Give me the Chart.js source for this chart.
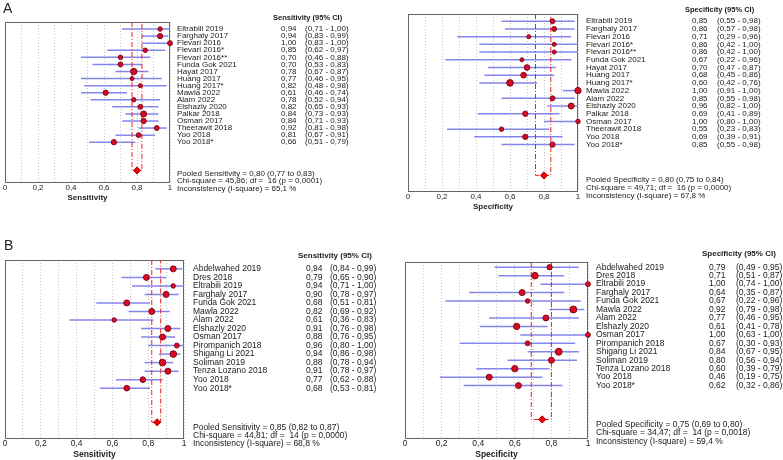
<!DOCTYPE html>
<html>
<head>
<meta charset="utf-8">
<script src="https://cdn.jsdelivr.net/npm/chart.js@4.4.1/dist/chart.umd.min.js"></script>
<style>
  html, body { margin: 0; padding: 0; background: #fff; }
  #wrap { position: relative; width: 783px; height: 460px; overflow: hidden; font-family: "Liberation Sans", Arial, sans-serif; }
  #wrap canvas { position: absolute; }
  .tag { position: absolute; font-size: 14px; line-height: 14px; color: #222; }
</style>
</head>
<body>
<div id="wrap">
  <canvas id="aSens" width="392" height="226" style="left:0;top:0"></canvas>
  <canvas id="aSpec" width="391" height="226" style="left:392px;top:0"></canvas>
  <canvas id="bSens" width="392" height="234" style="left:0;top:226px"></canvas>
  <canvas id="bSpec" width="391" height="234" style="left:392px;top:226px"></canvas>
  <div class="tag" style="left:3px;top:1px">A</div>
  <div class="tag" style="left:4px;top:238px">B</div>
</div>
<script>
// ---- panel A data ----
const studiesA = ['Eltrabili 2019', 'Farghaly 2017', 'Flevari 2016', 'Flevari 2016*', 'Flevari 2016**',
  'Funda Gok 2021', 'Hayat 2017', 'Huang 2017', 'Huang 2017*', 'Mawla 2022', 'Alam 2022',
  'Elshazly 2020', 'Palkar 2018', 'Osman 2017', 'Theerawit 2018', 'Yoo 2018', 'Yoo 2018*'];
const sensA   = [0.94, 0.94, 1.00, 0.85, 0.70, 0.70, 0.78, 0.77, 0.82, 0.61, 0.78, 0.82, 0.84, 0.84, 0.92, 0.81, 0.66];
const sensLoA = [0.71, 0.83, 0.83, 0.62, 0.46, 0.53, 0.67, 0.46, 0.48, 0.46, 0.52, 0.65, 0.73, 0.71, 0.81, 0.67, 0.51];
const sensHiA = [1.00, 0.99, 1.00, 0.97, 0.88, 0.83, 0.87, 0.95, 0.98, 0.74, 0.94, 0.93, 0.93, 0.93, 0.98, 0.91, 0.79];
const sensWtA = [5, 7, 6, 5, 5, 6, 10, 4, 4, 7, 5, 6, 9, 7, 6, 6, 7];
const specA   = [0.85, 0.86, 0.71, 0.86, 0.86, 0.67, 0.70, 0.68, 0.60, 1.00, 0.85, 0.96, 0.69, 1.00, 0.55, 0.69, 0.85];
const specLoA = [0.55, 0.57, 0.29, 0.42, 0.42, 0.22, 0.47, 0.45, 0.42, 0.91, 0.55, 0.82, 0.41, 0.80, 0.23, 0.39, 0.55];
const specHiA = [0.98, 0.98, 0.96, 1.00, 1.00, 0.96, 0.87, 0.86, 0.76, 1.00, 0.98, 1.00, 0.89, 1.00, 0.83, 0.91, 0.98];
const specWtA = [6, 6, 4, 4, 4, 4, 8, 8, 11, 10, 6, 9, 7, 5, 5, 7, 7];
const pooledSensA = [0.80, 0.77, 0.83];
const pooledSpecA = [0.80, 0.75, 0.84];
const hetSensA = [45.86, 16, 0.0001, 65.1];   // chi-square, df, p, I-square
const hetSpecA = [49.71, 16, 0.0000, 67.8];

// ---- panel B data ----
const studiesB = ['Abdelwahed 2019', 'Dres 2018', 'Eltrabili 2019', 'Farghaly 2017', 'Funda Gok 2021',
  'Mawla 2022', 'Alam 2022', 'Elshazly 2020', 'Osman 2017', 'Pirompanich 2018', 'Shigang Li 2021',
  'Soliman 2019', 'Tenza Lozano 2018', 'Yoo 2018', 'Yoo 2018*'];
const sensB   = [0.94, 0.79, 0.94, 0.90, 0.68, 0.82, 0.61, 0.91, 0.88, 0.96, 0.94, 0.88, 0.91, 0.77, 0.68];
const sensLoB = [0.84, 0.65, 0.71, 0.78, 0.51, 0.69, 0.36, 0.76, 0.76, 0.80, 0.86, 0.78, 0.78, 0.62, 0.53];
const sensHiB = [0.99, 0.90, 1.00, 0.97, 0.81, 0.92, 0.83, 0.98, 0.95, 1.00, 0.98, 0.94, 0.97, 0.88, 0.81];
const sensWtB = [9, 9, 5, 9, 9, 9, 5, 9, 9, 6, 11, 11, 9, 8, 8];
const specB   = [0.79, 0.71, 1.00, 0.64, 0.67, 0.92, 0.77, 0.61, 1.00, 0.67, 0.84, 0.80, 0.60, 0.46, 0.62];
const specLoB = [0.49, 0.51, 0.74, 0.35, 0.22, 0.79, 0.46, 0.41, 0.63, 0.30, 0.67, 0.56, 0.39, 0.19, 0.32];
const specHiB = [0.95, 0.87, 1.00, 0.87, 0.96, 0.98, 0.95, 0.78, 1.00, 0.93, 0.95, 0.94, 0.79, 0.75, 0.86];
const specWtB = [7, 11, 6, 9, 5, 12, 9, 10, 6, 6, 12, 9, 10, 9, 9];
const pooledSensB = [0.85, 0.82, 0.87];
const pooledSpecB = [0.75, 0.69, 0.80];
const hetSensB = [44.81, 14, 0.0000, 68.8];
const hetSpecB = [34.47, 14, 0.0018, 59.4];

const FONT = '"Liberation Sans", Arial, sans-serif';
const comma = (v, d) => v.toFixed(d).replace('.', ',');
const tickLabel = v => String(Math.round(v * 10) / 10).replace('.', ',');

const panels = [
  { id: 'aSens', what: 'Sensitivity', names: studiesA, est: sensA, lo: sensLoA, hi: sensHiA, wt: sensWtA,
    pooled: pooledSensA, het: hetSensA,
    pad: { left: 3, right: 222, top: 22, bottom: 23 }, yMin: -1, yMax: 21.6,
    font: 8, cols: [7, 103, 111, 135], headRow: -1.55, statDy: 3, statLh: 7.6 },
  { id: 'aSpec', what: 'Specificity', names: studiesA, est: specA, lo: specLoA, hi: specHiA, wt: specWtA,
    pooled: pooledSpecA, het: hetSpecA,
    pad: { left: 16, right: 205, top: 14, bottom: 14 }, yMin: -0.94, yMax: 22,
    font: 8, cols: [8, 107, 114, 139], headRow: -1.46, statDy: 4, statLh: 8 },
  { id: 'bSens', what: 'Sensitivity', names: studiesB, est: sensB, lo: sensLoB, hi: sensHiB, wt: sensWtB,
    pooled: pooledSensB, het: hetSensB,
    pad: { left: 3, right: 208, top: 34, bottom: 0 }, yMin: -1.04, yMax: 19.8,
    font: 8.5, cols: [9, 114, 122, 146], headRow: -1.5, statDy: 5, statLh: 8.2 },
  { id: 'bSpec', what: 'Specificity', names: studiesB, est: specB, lo: specLoB, hi: specHiB, wt: specWtB,
    pooled: pooledSpecB, het: hetSpecB,
    pad: { left: 13, right: 195, top: 36, bottom: 0 }, yMin: -0.62, yMax: 20.15,
    font: 8.5, cols: [8, 114, 121, 148], headRow: -1.55, statDy: 5, statLh: 8.5 }
];

// frame and text columns drawn around the plot
function forestText(p) {
  return {
    id: 'forestText',
    beforeDatasetsDraw(chart) {
      const a = chart.chartArea, ctx = chart.ctx;
      ctx.save();
      ctx.strokeStyle = '#666';
      ctx.lineWidth = 1;
      ctx.strokeRect(Math.round(a.left) + 0.5, Math.round(a.top) + 0.5,
        Math.round(a.right - a.left) - 1, Math.round(a.bottom - a.top));
      ctx.restore();
    },
    afterDraw(chart) {
      const ctx = chart.ctx, y = chart.scales.y, right = chart.chartArea.right;
      ctx.save();
      ctx.fillStyle = '#1a1a1a';
      ctx.textBaseline = 'middle';
      ctx.textAlign = 'left';
      ctx.font = `bold ${p.font - 0.5}px ${FONT}`;
      ctx.fillText(`${p.what} (95% CI)`, right + p.cols[1], y.getPixelForValue(p.headRow));
      ctx.font = `${p.font}px ${FONT}`;
      p.names.forEach((n, i) => {
        const py = y.getPixelForValue(i);
        ctx.fillText(n, right + p.cols[0], py);
        ctx.fillText(comma(p.est[i], 2), right + p.cols[2], py);
        ctx.fillText(`(${comma(p.lo[i], 2)} - ${comma(p.hi[i], 2)})`, right + p.cols[3], py);
      });
      const y0 = y.getPixelForValue(p.names.length + 3) + p.statDy;
      const lines = [
        `Pooled ${p.what} = ${comma(p.pooled[0], 2)} (${comma(p.pooled[1], 2)} to ${comma(p.pooled[2], 2)})`,
        `Chi-square = ${comma(p.het[0], 2)}; df =  ${p.het[1]} (p = ${comma(p.het[2], 4)})`,
        `Inconsistency (I-square) = ${comma(p.het[3], 1)} %`
      ];
      lines.forEach((t, k) => ctx.fillText(t, right + p.cols[0], y0 + k * p.statLh));
      ctx.restore();
    }
  };
}

function buildChart(p) {
  const pooledRow = p.names.length + 3;
  const datasets = [];
  datasets.push({
    data: p.est.map((v, i) => ({ x: v, y: i })),
    pointRadius: p.wt.map(w => Math.sqrt(w)),
    pointBackgroundColor: '#dc0a1e',
    pointBorderColor: '#7a0a1e',
    pointBorderWidth: 1,
    clip: false,
    order: 0
  });
  datasets.push({
    data: [{ x: p.pooled[0], y: pooledRow }],
    pointStyle: 'rectRot',
    pointRadius: 3.6,
    pointBackgroundColor: '#f00000',
    pointBorderColor: '#b00000',
    pointBorderWidth: 1,
    clip: false,
    order: 0
  });
  datasets.push({
    data: [{ x: p.pooled[1], y: p.yMin }, { x: p.pooled[1], y: pooledRow },
           { x: p.pooled[2], y: pooledRow }, { x: p.pooled[2], y: p.yMin }],
    showLine: true,
    borderColor: '#e52222',
    borderWidth: 1,
    borderDash: [5, 2, 1, 2],
    pointRadius: 0,
    clip: false,
    order: 1
  });
  p.lo.forEach((lo, i) => {
    datasets.push({
      data: [{ x: lo, y: i }, { x: p.hi[i], y: i }],
      showLine: true,
      borderColor: '#8585ee',
      borderWidth: 1.5,
      pointRadius: 0,
      clip: false,
      order: 2
    });
  });

  return new Chart(document.getElementById(p.id), {
    type: 'scatter',
    data: { datasets },
    options: {
      responsive: false,
      animation: false,
      devicePixelRatio: 1,
      layout: { padding: p.pad },
      plugins: { legend: { display: false }, tooltip: { enabled: false } },
      scales: {
        x: {
          type: 'linear', min: 0, max: 1,
          ticks: {
            stepSize: 0.1, autoSkip: false, maxRotation: 0, padding: 1,
            color: '#222', font: { family: FONT, size: p.font },
            callback: v => (Math.round(v * 10) % 2 === 0 ? tickLabel(v) : '')
          },
          grid: { color: '#c4c4c4', lineWidth: 1, drawTicks: false },
          border: { display: false, dash: [1, 2] },
          title: { display: true, text: p.what, color: '#222', padding: 0,
                   font: { family: FONT, size: p.font, weight: 'bold' } }
        },
        y: { type: 'linear', reverse: true, min: p.yMin, max: p.yMax, display: false }
      }
    },
    plugins: [forestText(p)]
  });
}

panels.forEach(buildChart);
</script>
</body>
</html>
